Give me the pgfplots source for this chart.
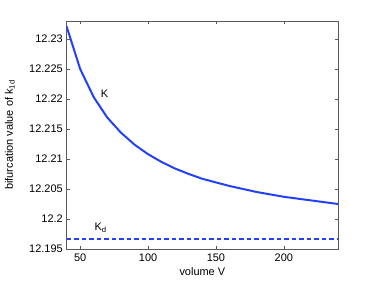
\documentclass[border=0pt]{standalone}
\usepackage{pgfplots}
\pgfplotsset{compat=1.18}
\usepackage{fontspec}
\setmainfont{Liberation Sans}
\definecolor{mblue}{RGB}{35,65,250}
\begin{document}
\fontsize{11pt}{13pt}\selectfont
\begin{tikzpicture}
\useasboundingbox (-66.6bp,-32bp) rectangle (306.4bp,249bp);
\begin{axis}[
  at={(0,0)}, anchor=south west,
  scale only axis, width=271.5bp, height=228bp,
  xmin=40, xmax=240, ymin=12.195, ymax=12.233,
  xtick={50,100,150,200},
  ytick={12.195,12.2,12.205,12.21,12.215,12.22,12.225,12.23},
  yticklabels={12.195,12.2,12.205,12.21,12.215,12.22,12.225,12.23},
  scaled y ticks=false,
  /pgf/number format/assume math mode=true,
  tick align=inside, major tick length=3bp,
  axis line style={gray!70!black, line width=0.6pt},
  every tick/.style={gray!70!black, line width=0.5pt},
  tick label style={font=\fontsize{11pt}{13pt}\selectfont, text=black},
  label style={font=\fontsize{11pt}{13pt}\selectfont},
  xlabel={volume V},
  ylabel={bifurcation value of k$_{\mathrm{1d}}$},
  xlabel style={yshift=2bp},
  ylabel style={yshift=7bp},
  xticklabel style={yshift=-1bp},
  clip=true,
]
\addplot[color=mblue, line width=2pt] coordinates {
(40,12.2321) (50,12.2250) (60,12.2203) (70,12.2169) (80,12.2144) (90,12.2124)
(100,12.2108) (110,12.2095) (120,12.2084) (130,12.2075) (140,12.2067)
(150,12.2061) (160,12.2055) (170,12.2050) (180,12.2045) (190,12.2041)
(200,12.2037) (210,12.2034) (220,12.2031) (230,12.2028) (240,12.2025)
};
\addplot[color=mblue, line width=2pt, dash pattern=on 4.5bp off 3bp] coordinates {
(40,12.1966) (240,12.1966)
};
\node[anchor=center] at (axis cs:68,12.2208) {K};
\node[anchor=center] at (axis cs:65,12.1986) {K$_{\mathrm{d}}$};
\end{axis}
\end{tikzpicture}
\end{document}
